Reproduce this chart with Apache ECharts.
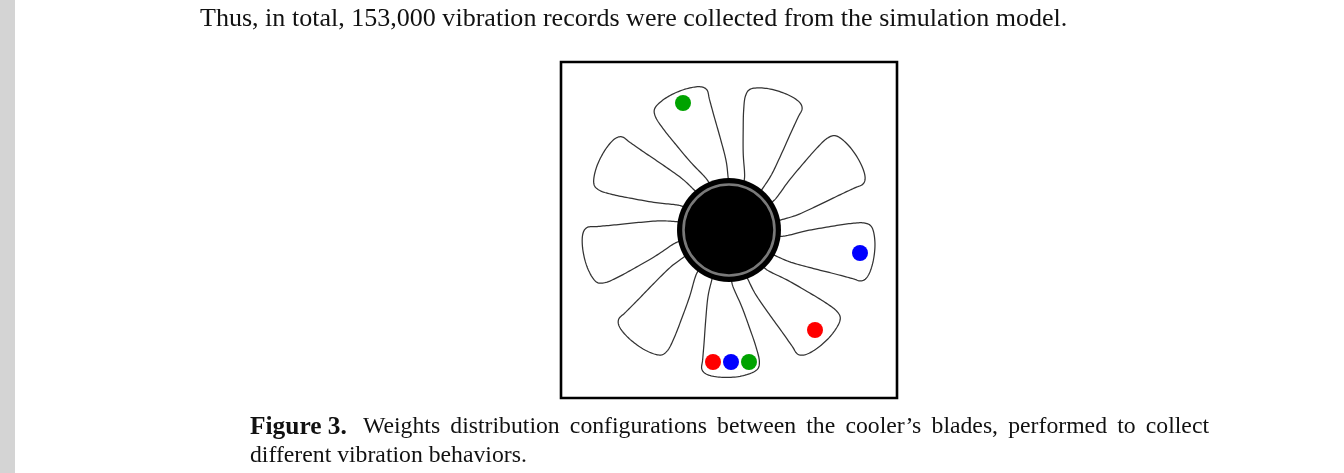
<!DOCTYPE html>
<html>
<head>
<meta charset="utf-8">
<style>
  html, body { margin: 0; padding: 0; background: #fff; }
  #chart { width: 1344px; height: 473px; }
</style>
<script src="https://cdn.jsdelivr.net/npm/echarts@6/dist/echarts.min.js"></script>
</head>
<body>
<div id="chart"></div>
<script>
// root angle of each blade (deg, counter-clockwise from +x)
var bladeAngles = [-98, -58, -18, 22, 62, 102, 142, 182, 222];
// balancing weights, [x, y] relative to hub centre
var redWeights = [[86, -100], [-16, -132]];
var blueWeights = [[131, -23], [2, -132]];
var greenWeights = [[-46, 127], [20, -132]];
var hubCentre = [[0, 0]];

var bodyLine = 'Thus, in total, 153,000 vibration records were collected from the simulation model.';
var captionLabel = 'Figure 3.';
var captionLine1 = 'Weights distribution configurations between the cooler\u2019s blades, performed to collect';
var captionLine2 = 'different vibration behaviors.';

(function () {
  'use strict';

  var FONT = '"Liberation Serif", "DejaVu Serif", serif';

  // blade outline in polar offsets: [radius, degrees from root angle]
  var BLADE_PROFILE = [
    [40, -12.5], [53, -11], [70, -9.5], [93, -6.5], [115, -4.5], [132, -3.5], [142, -3],
    [146.5, 0], [147.5, 6], [146.5, 13], [143, 19],
    [135, 21], [120, 21], [102, 20], [78, 17.5], [60, 13], [52, 11], [40, 9.5]
  ];

  // Catmull-Rom through the outline points so the edges come out as curves
  function spline(pts, steps) {
    var out = [];
    var n = pts.length;
    for (var i = 0; i < n - 1; i++) {
      var p0 = pts[Math.max(i - 1, 0)], p1 = pts[i], p2 = pts[i + 1], p3 = pts[Math.min(i + 2, n - 1)];
      for (var s = 0; s < steps; s++) {
        var t = s / steps, t2 = t * t, t3 = t2 * t;
        out.push([0, 1].map(function (k) {
          return 0.5 * (2 * p1[k] + (-p0[k] + p2[k]) * t +
            (2 * p0[k] - 5 * p1[k] + 4 * p2[k] - p3[k]) * t2 +
            (-p0[k] + 3 * p1[k] - 3 * p2[k] + p3[k]) * t3);
        }));
      }
    }
    out.push(pts[n - 1]);
    return out;
  }

  var ctx = document.createElement('canvas').getContext('2d');
  function textWidth(text, weight, size) {
    ctx.font = weight + ' ' + size + 'px ' + FONT;
    return ctx.measureText(text).width;
  }
  function fitSize(text, weight, target) {
    return 100 * target / textWidth(text, weight, 100);
  }

  // justified line -> one text element per word
  function justify(text, size, x0, x1, y) {
    var words = text.split(' ');
    var total = 0;
    words.forEach(function (w) { total += textWidth(w, 'normal', size); });
    var gap = (x1 - x0 - total) / (words.length - 1);
    var x = x0;
    return words.map(function (w) {
      var el = {
        type: 'text', x: x, y: y,
        style: { text: w, font: 'normal ' + size + 'px ' + FONT, fill: '#111', verticalAlign: 'middle' }
      };
      x += textWidth(w, 'normal', size) + gap;
      return el;
    });
  }

  function renderBlade(params, api) {
    var a0 = api.value(0);
    var outline = BLADE_PROFILE.map(function (p) {
      var a = (a0 + p[1]) * Math.PI / 180;
      return api.coord([p[0] * Math.cos(a), p[0] * Math.sin(a)]);
    });
    return {
      type: 'polygon',
      shape: { points: spline(outline, 10) },
      style: { fill: '#fff', stroke: '#333', lineWidth: 1.25 }
    };
  }

  function renderHub(params, api) {
    var c = api.coord([api.value(0), api.value(1)]);
    var rOuter = api.size([52, 0])[0];
    var rRing = api.size([45.5, 0])[0];
    return {
      type: 'group',
      children: [
        { type: 'circle', shape: { cx: c[0], cy: c[1], r: rOuter }, style: { fill: '#000' } },
        { type: 'circle', shape: { cx: c[0], cy: c[1], r: rRing }, style: { fill: 'none', stroke: '#7a7a7a', lineWidth: 2.6 } }
      ]
    };
  }

  var bodySize = fitSize(bodyLine, 'normal', 868);
  var capSize = fitSize(captionLine2, 'normal', 277);
  var labelSize = fitSize(captionLabel, 'bold', 97);

  var graphics = [
    { type: 'rect', shape: { x: 0, y: 0, width: 15, height: 473 }, style: { fill: '#d4d4d4' } },
    { type: 'text', x: 200, y: 19, style: { text: bodyLine, font: 'normal ' + bodySize + 'px ' + FONT, fill: '#111', verticalAlign: 'middle' } },
    { type: 'text', x: 250, y: 427, style: { text: captionLabel, font: 'bold ' + labelSize + 'px ' + FONT, fill: '#111', verticalAlign: 'middle' } },
    { type: 'text', x: 250, y: 456, style: { text: captionLine2, font: 'normal ' + capSize + 'px ' + FONT, fill: '#111', verticalAlign: 'middle' } }
  ].concat(justify(captionLine1, capSize, 363, 1209, 427));

  var chart = echarts.init(document.getElementById('chart'));
  chart.setOption({
    animation: false,
    backgroundColor: '#fff',
    grid: {
      left: 561, top: 62, width: 336, height: 336,
      show: true, borderColor: '#000', borderWidth: 2.6, backgroundColor: '#fff'
    },
    xAxis: { type: 'value', min: -168, max: 168, show: false },
    yAxis: { type: 'value', min: -168, max: 168, show: false },
    graphic: graphics,
    series: [
      {
        type: 'custom', name: 'blades', renderItem: renderBlade,
        data: bladeAngles.map(function (a) { return [a]; }), z: 2
      },
      {
        type: 'custom', name: 'hub', renderItem: renderHub,
        data: hubCentre, z: 3
      },
      { type: 'scatter', name: 'red', data: redWeights, symbolSize: 16, itemStyle: { color: '#ff0000', opacity: 1 }, z: 4 },
      { type: 'scatter', name: 'blue', data: blueWeights, symbolSize: 16, itemStyle: { color: '#0000ff', opacity: 1 }, z: 4 },
      { type: 'scatter', name: 'green', data: greenWeights, symbolSize: 16, itemStyle: { color: '#00a300', opacity: 1 }, z: 4 }
    ]
  });
})();
</script>
</body>
</html>
